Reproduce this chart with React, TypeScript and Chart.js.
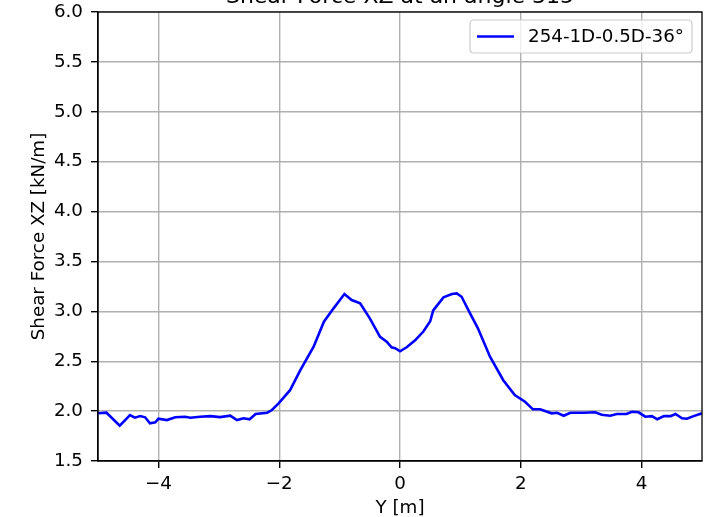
import React, { useEffect, useRef } from "react";
import { Chart, registerables } from "chart.js";

Chart.register(...registerables);

const chartTitle = "Shear Force XZ at an angle 315";
const seriesLabel = "254-1D-0.5D-36°";
const xAxisTitle = "Y [m]";
const yAxisTitle = "Shear Force XZ [kN/m]";
const xTickValues = [-4, -2, 0, 2, 4];
const yTickValues = [1.5, 2.0, 2.5, 3.0, 3.5, 4.0, 4.5, 5.0, 5.5, 6.0];

const yPositions = [
  -5.0, -4.86, -4.64, -4.47, -4.39, -4.3, -4.22, -4.14, -4.05, -4.0,
  -3.86, -3.72, -3.56, -3.47, -3.31, -3.14, -2.98, -2.81, -2.7, -2.59,
  -2.49, -2.39, -2.2, -2.12, -2.01, -1.82, -1.65, -1.43, -1.26, -1.1,
  -0.92, -0.8, -0.66, -0.5, -0.33, -0.22, -0.14, -0.08, 0.0, 0.11,
  0.25, 0.39, 0.5, 0.55, 0.72, 0.86, 0.94, 1.02, 1.16, 1.29,
  1.49, 1.71, 1.9, 2.07, 2.2, 2.32, 2.51, 2.6, 2.71, 2.82,
  3.04, 3.23, 3.34, 3.48, 3.59, 3.75, 3.84, 3.95, 4.06, 4.17,
  4.26, 4.37, 4.48, 4.56, 4.67, 4.75, 4.86, 5.0,
];
const shearForce = [
  1.978, 1.984, 1.854, 1.96, 1.934, 1.95, 1.938, 1.878, 1.888, 1.924,
  1.91, 1.938, 1.944, 1.934, 1.944, 1.95, 1.94, 1.954, 1.91, 1.928,
  1.918, 1.971, 1.984, 2.011, 2.078, 2.21, 2.41, 2.645, 2.896, 3.03,
  3.173, 3.113, 3.08, 2.93, 2.745, 2.695, 2.639, 2.63, 2.6, 2.64,
  2.71, 2.8, 2.9, 3.01, 3.14, 3.173, 3.18, 3.146, 2.98, 2.83,
  2.545, 2.31, 2.16, 2.094, 2.018, 2.018, 1.978, 1.984, 1.954, 1.984,
  1.984, 1.988, 1.964, 1.954, 1.971, 1.971, 1.994, 1.988, 1.944, 1.95,
  1.918, 1.95, 1.95, 1.971, 1.928, 1.924, 1.95, 1.978,
];

const FONT = "'DejaVu Sans', sans-serif";
const FS = 18.3;

const framePlugin = {
  id: "frameAndDecor",
  afterDraw(chart: any) {
    const { ctx, chartArea } = chart;
    const { left, right, top, bottom } = chartArea;
    ctx.save();
    // frame
    ctx.strokeStyle = "#000";
    ctx.lineWidth = 1.3;
    ctx.strokeRect(left, top, right - left, bottom - top);
    // title
    ctx.fillStyle = "#000";
    ctx.font = `22px ${FONT}`;
    ctx.textAlign = "center";
    ctx.textBaseline = "alphabetic";
    ctx.fillText(chartTitle, (left + right) / 2, 3);
    // legend
    const bx = 470, by = 20, bw = 222, bh = 33, r = 4;
    ctx.beginPath();
    ctx.moveTo(bx + r, by);
    ctx.lineTo(bx + bw - r, by);
    ctx.quadraticCurveTo(bx + bw, by, bx + bw, by + r);
    ctx.lineTo(bx + bw, by + bh - r);
    ctx.quadraticCurveTo(bx + bw, by + bh, bx + bw - r, by + bh);
    ctx.lineTo(bx + r, by + bh);
    ctx.quadraticCurveTo(bx, by + bh, bx, by + bh - r);
    ctx.lineTo(bx, by + r);
    ctx.quadraticCurveTo(bx, by, bx + r, by);
    ctx.closePath();
    ctx.fillStyle = "rgba(255,255,255,0.8)";
    ctx.fill();
    ctx.strokeStyle = "#cccccc";
    ctx.lineWidth = 1.2;
    ctx.stroke();
    ctx.beginPath();
    ctx.strokeStyle = "#0000ff";
    ctx.lineWidth = 2.6;
    ctx.moveTo(477, by + bh / 2);
    ctx.lineTo(514, by + bh / 2);
    ctx.stroke();
    ctx.fillStyle = "#000";
    ctx.font = `${FS}px ${FONT}`;
    ctx.textAlign = "left";
    ctx.textBaseline = "middle";
    ctx.fillText(seriesLabel, 528, by + bh / 2 + 1);
    ctx.restore();
  },
};

export default function App() {
  const ref = useRef<HTMLCanvasElement>(null);
  useEffect(() => {
    if (!ref.current) return;
    const points = yPositions.map((x, i) => ({ x, y: shearForce[i] }));
    const chart = new Chart(ref.current, {
      type: "line",
      data: {
        datasets: [
          {
            label: seriesLabel,
            data: points,
            borderColor: "#0000ff",
            backgroundColor: "#0000ff",
            borderWidth: 2.6,
            pointRadius: 0,
            tension: 0,
            fill: false,
          },
        ],
      },
      options: {
        animation: false,
        responsive: false,
        maintainAspectRatio: false,
        layout: { padding: { top: 12, right: 6, left: 0, bottom: 0 } },
        plugins: {
          legend: { display: false },
          title: { display: false },
          tooltip: { enabled: false },
        },
        scales: {
          x: {
            type: "linear",
            min: -5,
            max: 5,
            afterBuildTicks: (scale: any) => {
              scale.ticks = xTickValues.map((v) => ({ value: v }));
            },
            afterFit: (scale: any) => {
              scale.height = 56;
              scale.paddingLeft = 0;
              scale.paddingRight = 0;
            },
            grid: {
              color: "#b0b0b0",
              lineWidth: 1.4,
              tickColor: "#000",
              tickLength: 7,
              drawTicks: true,
            },
            border: { display: true, color: "#000", width: 1.3 },
            ticks: {
              color: "#000",
              font: { family: FONT, size: FS, lineHeight: 1 },
              padding: 7.5,
              maxRotation: 0,
              callback: (v: any) => (Number(v) < 0 ? "\u2212" + Math.abs(Number(v)) : String(v)),
            },
            title: {
              display: true,
              text: xAxisTitle,
              color: "#000",
              font: { family: FONT, size: FS, lineHeight: 1 },
              padding: { top: 0, bottom: 0 },
            },
          },
          y: {
            type: "linear",
            min: 1.5,
            max: 6.0,
            afterBuildTicks: (scale: any) => {
              scale.ticks = yTickValues.map((v) => ({ value: v }));
            },
            afterFit: (scale: any) => {
              scale.width = 98;
              scale.paddingTop = 0;
              scale.paddingBottom = 0;
            },
            grid: {
              color: "#b0b0b0",
              lineWidth: 1.4,
              tickColor: "#000",
              tickLength: 7,
              drawTicks: true,
            },
            border: { display: true, color: "#000", width: 1.3 },
            ticks: {
              color: "#000",
              font: { family: FONT, size: FS, lineHeight: 1 },
              padding: 8,
              callback: (v: any) => Number(v).toFixed(1),
            },
            title: {
              display: true,
              text: yAxisTitle,
              color: "#000",
              font: { family: FONT, size: FS, lineHeight: 1 },
              padding: { top: 29.85, bottom: 0 },
            },
          },
        },
      },
      plugins: [framePlugin],
    });
    return () => chart.destroy();
  }, []);
  return (
    <div style={{ position: "fixed", left: 0, top: 0, width: 708, height: 517, background: "#fff" }}>
      <canvas ref={ref} width={708} height={517} style={{ width: 708, height: 517, display: "block" }} />
    </div>
  );
}
